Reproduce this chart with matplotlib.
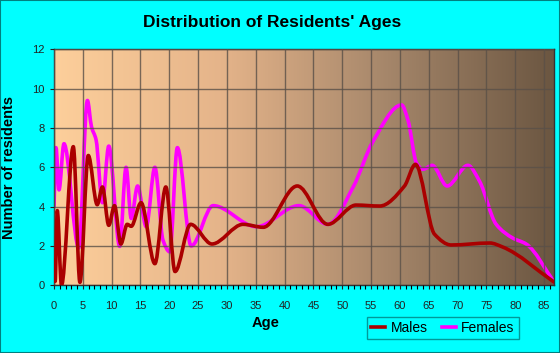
import numpy as np
import matplotlib.pyplot as plt
from matplotlib.path import Path
from matplotlib.patches import PathPatch
from matplotlib.colors import LinearSegmentedColormap

# points (age, residents)
male_age = [0, 0.2, 0.57, 1.3, 3.35, 4.5, 5.95, 7.5, 8.4, 9.5, 10.5, 11.6, 12.7, 13.4,
            15.1, 17.5, 19.4, 21, 23.7, 27.4, 32.8, 36.3, 42.2, 47.5, 52.4, 56.5,
            60.8, 62.7, 66, 68.9, 75.6, 77.8, 86.8]
male_val = [1.3, 0.2, 3.8, 0.0, 7.05, 0.15, 6.6, 4.1, 5.0, 3.05, 4.05, 2.1, 3.1, 3.0,
            4.2, 1.1, 5.0, 0.7, 3.1, 2.1, 3.1, 2.95, 5.05, 3.1, 4.08, 4.03,
            5.05, 6.15, 2.6, 2.05, 2.15, 1.95, 0.15]

female_age = [0, 0.35, 0.87, 1.73, 4.3, 5.8, 6.5, 7.3, 8.4, 9.5, 11.4, 12.5, 13.4,
              14.5, 16, 17.5, 18.9, 20.1, 21.4, 23.8, 27.6, 35.1, 42.5, 47.5, 51.9,
              55.3, 60.3, 61.4, 62.9, 64, 65.6, 68.2, 71.8, 73.8, 76.7, 79.6, 81.9, 86.8]
female_val = [4.0, 7.0, 4.85, 7.2, 1.9, 9.4, 8.07, 7.4, 4.2, 7.08, 1.98, 6.0, 3.4,
              5.05, 2.98, 6.0, 2.3, 1.7, 7.0, 2.0, 4.05, 2.98, 4.05, 3.1, 5.0,
              7.3, 9.17, 8.4, 6.2, 5.9, 6.1, 5.05, 6.1, 5.3, 3.1, 2.4, 2.1, 0.15]


def smooth_path(x, y):
    # monotone cubic (Fritsch-Carlson) turned into bezier segments
    x = np.asarray(x, float)
    y = np.asarray(y, float)
    h = np.diff(x)
    d = np.diff(y) / h
    m = np.zeros_like(y)
    m[0], m[-1] = d[0], d[-1]
    for i in range(1, len(x) - 1):
        if d[i - 1] * d[i] > 0:
            w1 = 2 * h[i] + h[i - 1]
            w2 = h[i] + 2 * h[i - 1]
            m[i] = (w1 + w2) / (w1 / d[i - 1] + w2 / d[i])
    verts = [(x[0], y[0])]
    codes = [Path.MOVETO]
    for i in range(len(h)):
        verts += [(x[i] + h[i] / 3, y[i] + m[i] * h[i] / 3),
                  (x[i + 1] - h[i] / 3, y[i + 1] - m[i + 1] * h[i] / 3),
                  (x[i + 1], y[i + 1])]
        codes += [Path.CURVE4] * 3
    return Path(verts, codes)


plt.rcParams['font.family'] = ['Liberation Sans', 'DejaVu Sans']

fig = plt.figure(figsize=(5.6, 3.53), dpi=100, facecolor='#00ffff')
fig.patches.append(plt.Rectangle((0, 0), 1, 1, transform=fig.transFigure, fill=False,
                                 edgecolor='#008080', lw=1.5))
ax = fig.add_axes([0.0964, 0.1918, 0.8936, 0.6685])

xmax = 86.8
cmap = LinearSegmentedColormap.from_list('bg', ['#fdcf9b', '#e5b48a', '#a5866a', '#6b5641'])
ax.imshow(np.linspace(0, 1, 256).reshape(1, -1), cmap=cmap, aspect='auto',
          extent=[0, xmax, 0, 12], zorder=0)

ax.grid(True, color='#5a5048', lw=1, alpha=0.8, zorder=1)
ax.set_axisbelow(False)

males = PathPatch(smooth_path(male_age, male_val), fill=False, edgecolor='#aa0000',
                  lw=2.6, zorder=3, capstyle='round', joinstyle='round')
females = PathPatch(smooth_path(female_age, female_val), fill=False, edgecolor='#ff00ff',
                    lw=2.6, zorder=2, capstyle='round', joinstyle='round')
ax.add_patch(females)
ax.add_patch(males)

ax.set_xlim(0, xmax)
ax.set_ylim(0, 12)
ax.set_xticks(range(0, 86, 5))
ax.set_xticks(range(0, 87), minor=True)
ax.set_yticks(range(0, 13, 2))
ax.tick_params(axis='both', labelsize=8, colors='#222222', length=3, width=0.8)
ax.tick_params(axis='x', which='minor', length=3, width=0.8)
ax.tick_params(axis='x', pad=8)
for s in ax.spines.values():
    s.set_color('#333333')
    s.set_linewidth(1)

fig.text(0.486, 0.935, "Distribution of Residents' Ages", fontsize=12.5,
         fontweight='bold', ha='center', va='center')
fig.text(0.475, 0.085, 'Age', fontsize=10.5, fontweight='bold', ha='center', va='center')
ax.set_ylabel('Number of residents', fontsize=10.5, fontweight='bold', labelpad=12)

h1, = ax.plot([], [], color='#aa0000', lw=2.6, label='Males')
h2, = ax.plot([], [], color='#ff00ff', lw=2.6, label='Females')
leg = fig.legend(handles=[h1, h2], loc='center', bbox_to_anchor=(0.791, 0.07), ncol=2,
                 fontsize=10, frameon=True, fancybox=False, handlelength=1.0,
                 handletextpad=0.4, columnspacing=1.0, borderpad=0.3, borderaxespad=0)
leg.get_frame().set_edgecolor('#008080')
leg.get_frame().set_facecolor('#00ffff')
leg.get_frame().set_linewidth(1)

fig.savefig('out.png', dpi=100, facecolor=fig.get_facecolor())
